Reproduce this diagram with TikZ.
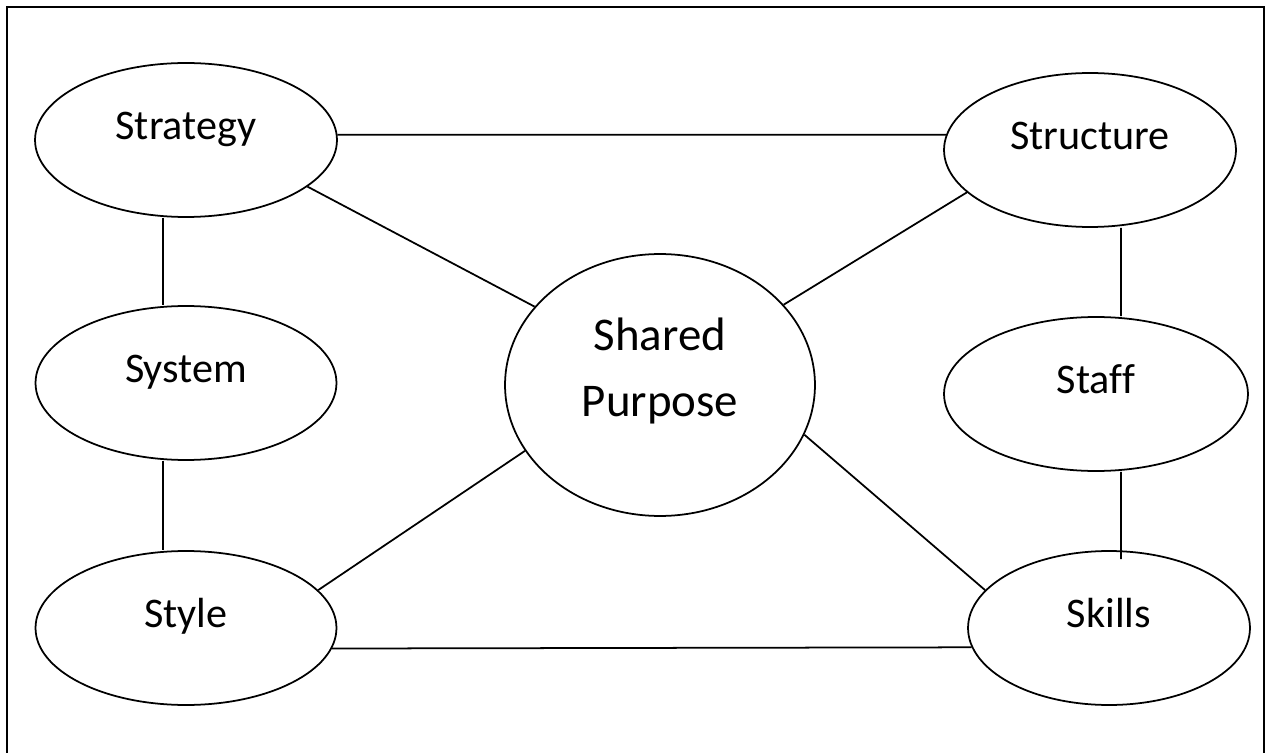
\documentclass[tikz,border=0pt]{standalone}
\usepackage{fontspec}
\setmainfont{Carlito}[Ligatures=NoCommon]
\usetikzlibrary{shapes.geometric}
\tikzset{
  elem/.style={draw, ellipse, line width=1pt, inner sep=0pt, minimum height=3.08cm,
    font=\fontsize{24}{29}\selectfont, text height=17pt, text depth=17.6pt},
  core/.style={draw, ellipse, line width=1pt, inner sep=0pt, minimum width=6.2cm,
    minimum height=5.24cm, align=center, font=\fontsize{26.7}{37.5}\selectfont},
  link/.style={line width=1pt}
}
\begin{document}
\begin{tikzpicture}[x=0.02cm, y=-0.02cm]
\useasboundingbox (0,0) rectangle (1265,753);
% рамка
\draw [line width=1.2pt] (7,753) -- (7,7) -- (1264,7) -- (1264,753);

% элементы
\node [elem, minimum width=6.04cm] (strategy) at (186,140) {Strategy};
\node [elem, minimum width=5.84cm] (structure) at (1090,150) {Structure};
\node [elem, minimum width=6.02cm] (system) at (186,383) {System};
\node [elem, minimum width=6.08cm] (staff) at (1096,394) {Staff};
\node [elem, minimum width=6.02cm] (style) at (186,628) {Style};
\node [elem, minimum width=5.64cm] (skills) at (1109,628) {Skills};
\node [core] (shared) at (660,385) {Shared\\Purpose\rule[-20.6pt]{0pt}{20.6pt}};

% связи по краям
\draw [link] (strategy.2) -- (structure.174);
\draw [link] (style.-8) -- (skills.188);
\draw [link] ([xshift=-0.46cm]strategy.south) -- ([xshift=-0.46cm]system.north);
\draw [link] ([xshift=-0.46cm]system.south) -- ([xshift=-0.46cm]style.north);
\draw [link] ([xshift=0.62cm]structure.south) -- ([xshift=0.5cm]staff.north);
\draw [link] ([xshift=0.5cm]staff.south) -- ([xshift=0.24cm,yshift=-0.18cm]skills.north);

% связи с центром
\draw [link] (strategy.-21) -- (shared.148);
\draw [link] (structure.-161) -- (shared.33);
\draw [link] (style.16) -- (shared.206);
\draw [link] (skills.163) -- (shared.-19);
\end{tikzpicture}
\end{document}
